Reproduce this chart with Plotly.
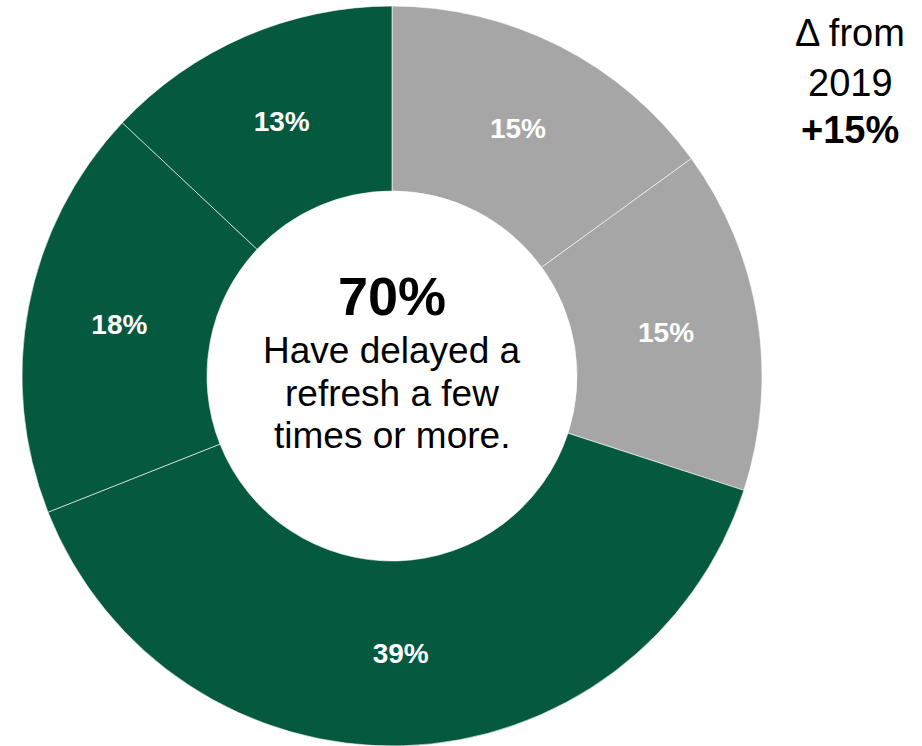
import plotly.graph_objects as go

labels = ["Seg A", "Seg B", "Seg C", "Seg D", "Seg E"]
values = [15, 15, 39, 18, 13]
text_labels = ["15%", "15%", "39%", "18%", "13%"]
colors = ["#A6A6A6", "#A6A6A6", "#04593F", "#04593F", "#04593F"]

center_big = "70%"
center_lines = ["Have delayed a", "refresh a few", "times or more."]
side_lines = ["Δ from", "2019", "<b>+15%</b>"]

W, H = 922, 746
FONT = "Arial, Liberation Sans, sans-serif"

fig = go.Figure(go.Pie(
    labels=labels,
    values=values,
    text=text_labels,
    textinfo="text",
    textposition="inside",
    insidetextorientation="horizontal",
    textfont=dict(family=FONT, size=28, color="white", weight="bold"),
    marker=dict(colors=colors, line=dict(color="white", width=0.6)),
    hole=0.5,
    sort=False,
    direction="clockwise",
    rotation=0,
    domain=dict(x=[22 / W, 762 / W], y=[0, 740 / H]),
    showlegend=False,
    hoverinfo="skip",
))

def py(ypix):
    return 1 - ypix / H

annotations = [
    dict(x=392 / W, y=py(296), text=f"<b>{center_big}</b>",
         font=dict(family=FONT, size=54, color="black")),
]
for t, yc in zip(center_lines, [350, 393, 435]):
    annotations.append(dict(x=392 / W, y=py(yc), text=t,
                            font=dict(family=FONT, size=37, color="black")))
for t, yc in zip(side_lines, [33, 83, 130]):
    annotations.append(dict(x=850 / W, y=py(yc), text=t,
                            font=dict(family=FONT, size=38, color="black")))
for a in annotations:
    a.update(xref="paper", yref="paper", showarrow=False,
             xanchor="center", yanchor="middle")

fig.update_layout(
    width=W, height=H,
    margin=dict(l=0, r=0, t=0, b=0),
    paper_bgcolor="white", plot_bgcolor="white",
    annotations=annotations,
)

fig.write_html("out.html")
